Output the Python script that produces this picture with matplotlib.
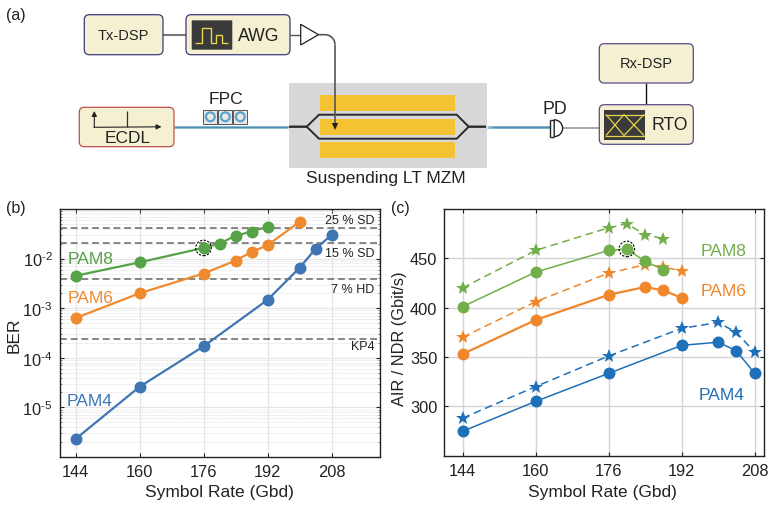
import matplotlib
matplotlib.use("Agg")
import matplotlib.pyplot as plt
from matplotlib.patches import FancyBboxPatch, Rectangle, Polygon, Circle, Wedge
from matplotlib.ticker import LogLocator, NullFormatter
import numpy as np

plt.rcParams['font.family'] = ['Liberation Sans', 'DejaVu Sans']
plt.rcParams['mathtext.fontset'] = 'custom'
plt.rcParams['mathtext.rm'] = 'Liberation Sans'
plt.rcParams['mathtext.it'] = 'Liberation Sans'
plt.rcParams['mathtext.default'] = 'regular'

# ---------- data ----------
ber_pam4_x = [144, 160, 176, 192, 200, 204, 208]
ber_pam4_y = [2.3e-6, 2.6e-5, 1.7e-4, 1.47e-3, 6.5e-3, 1.57e-2, 3.0e-2]
ber_pam6_x = [144, 160, 176, 184, 188, 192, 200]
ber_pam6_y = [6.3e-4, 2.0e-3, 5.0e-3, 9.1e-3, 1.36e-2, 1.86e-2, 5.5e-2]
ber_pam8_x = [144, 160, 176, 180, 184, 188, 192]
ber_pam8_y = [4.5e-3, 8.4e-3, 1.64e-2, 2.0e-2, 2.9e-2, 3.5e-2, 4.4e-2]
fec_limits = [4.2e-2, 2.05e-2, 3.8e-3, 2.4e-4]
fec_names = ['25 % SD', '15 % SD', '7 % HD', 'KP4']

air_pam4_x = [144, 160, 176, 192, 200, 204, 208]
air_pam4 = [274.7, 305, 333.4, 361.8, 365, 356.4, 333.4]
ndr_pam4 = [288, 320, 351, 379, 385, 375, 355]
air_pam6_x = [144, 160, 176, 184, 188, 192]
air_pam6 = [353, 387.5, 413, 421, 417.5, 410]
ndr_pam6 = [370, 406, 435, 443.5, 441, 437.5]
air_pam8_x = [144, 160, 176, 180, 184, 188]
air_pam8 = [401, 436, 458, 459.5, 447, 438.5]
ndr_pam8 = [420, 458, 481, 485, 474, 470]

rate_ticks = [144, 160, 176, 192, 208]
air_ticks = [300, 350, 400, 450]
ber_ticks = [1e-5, 1e-4, 1e-3, 1e-2]
ber_ticklabels = [r'$10^{\text{-5}}$', r'$10^{\text{-4}}$', r'$10^{\text{-3}}$', r'$10^{\text{-2}}$']

W, H = 772, 506
BLUE_B, ORANGE_B, GREEN_B = '#3F74B5', '#EF8A2E', '#55A247'
BLUE_C, ORANGE_C, GREEN_C = '#1F70B8', '#F0872B', '#72AE4A'
INK = '#222222'

fig = plt.figure(figsize=(W / 100, H / 100), dpi=100)


def axes_px(x0, y0, x1, y1):
    return fig.add_axes([x0 / W, 1 - y1 / H, (x1 - x0) / W, (y1 - y0) / H])


def style(ax):
    for s in ax.spines.values():
        s.set_linewidth(1.0)
        s.set_color(INK)
    ax.tick_params(axis='both', which='major', direction='in', top=True, right=True,
                   length=3, width=0.8, color=INK, labelcolor=INK, labelsize=11.8, pad=5)
    ax.set_axisbelow(True)


def axis_labels(ax, xtext, ytext, size_y, xpos, ypos):
    ax.set_xlabel(xtext, fontsize=12.5, color=INK, va='center')
    ax.set_ylabel(ytext, fontsize=size_y, color=INK, va='center')
    ax.xaxis.set_label_coords(*xpos)
    ax.yaxis.set_label_coords(*ypos)


# ---------- panel (b) ----------
axb = axes_px(59.5, 210, 379.5, 458)
style(axb)
axb.set_yscale('log')
axb.set_xlim(140, 220)
axb.set_ylim(1e-6, 1e-1)
axb.set_xticks(rate_ticks)
axb.set_yticks(ber_ticks)
axb.set_yticklabels(ber_ticklabels)
axb.yaxis.set_minor_locator(LogLocator(base=10, subs=np.arange(2, 10), numticks=12))
axb.yaxis.set_minor_formatter(NullFormatter())
axb.tick_params(axis='y', which='minor', direction='in', right=True, length=1.5, width=0.5, color='#555555')
axb.grid(True, which='major', color='#E6E6E6', lw=0.9)
axb.grid(True, which='minor', axis='y', color='#DDDDDD', lw=0.6, ls=(0, (1, 1)))
for v in fec_limits:
    axb.axhline(v, color='#666666', lw=1.1, ls=(0, (4.5, 2.5)), zorder=1.5)
for x, y, c in [(ber_pam4_x, ber_pam4_y, BLUE_B), (ber_pam6_x, ber_pam6_y, ORANGE_B), (ber_pam8_x, ber_pam8_y, GREEN_B)]:
    axb.plot(x, y, '-o', color=c, lw=1.6, ms=8.6, mew=0, zorder=3)
axb.scatter([ber_pam8_x[2]], [ber_pam8_y[2]], s=125, facecolors='none', edgecolors='k',
            linewidths=0.8, linestyles=(0, (2, 1.3)), zorder=4)
axis_labels(axb, 'Symbol Rate (Gbd)', 'BER', 12.5, (0.5, -0.141), (-0.142, 0.496))

# ---------- panel (c) ----------
axc = axes_px(444.3, 210, 763.7, 456.7)
style(axc)
axc.set_xlim(140, 210)
axc.set_ylim(250, 500)
axc.set_xticks(rate_ticks)
axc.set_yticks(air_ticks)
axc.grid(True, which='major', color='#D4D4D4', lw=1.0)
for x, a, n, c, lw in [(air_pam4_x, air_pam4, ndr_pam4, BLUE_C, 1.1),
                       (air_pam6_x, air_pam6, ndr_pam6, ORANGE_C, 1.6),
                       (air_pam8_x, air_pam8, ndr_pam8, GREEN_C, 1.1)]:
    axc.plot(x, n, color=c, lw=1.1, ls=(0, (5, 3)), marker='*', ms=10.5, mew=0, zorder=3)
    axc.plot(x, a, color=c, lw=lw, marker='o', ms=8.6, mew=0, zorder=4)
axc.scatter([air_pam8_x[3]], [air_pam8[3]], s=125, facecolors='none', edgecolors='k',
            linewidths=0.8, linestyles=(0, (2, 1.3)), zorder=5)
axis_labels(axc, 'Symbol Rate (Gbd)', 'AIR / NDR (Gbit/s)', 11.8, (0.495, -0.147), (-0.139, 0.477))

# ---------- overlay in pixel coordinates ----------
ov = fig.add_axes([0, 0, 1, 1], zorder=10)
ov.set_xlim(0, W)
ov.set_ylim(H, 0)
ov.axis('off')
ov.patch.set_alpha(0)


def label(x, y, s, size=11, color=INK, ha='center', va='center', **kw):
    ov.text(x, y, s, fontsize=size, color=color, ha=ha, va=va, **kw)


label(6, 15, '(a)', 11.5, ha='left')
label(6, 209, '(b)', 11.5, ha='left')
label(391, 209, '(c)', 11.5, ha='left')

for y, name in zip([220.7, 254, 289.7, 347.3], fec_names):
    label(374.5, y, name, 9, ha='right')
label(68, 259, 'PAM8', 12.5, GREEN_B, ha='left')
label(68, 298.5, 'PAM6', 12.5, ORANGE_B, ha='left')
label(66.5, 401.5, 'PAM4', 12.5, BLUE_B, ha='left')
label(701, 251.7, 'PAM8', 12.5, GREEN_C, ha='left')
label(701, 291, 'PAM6', 12.5, ORANGE_C, ha='left')
label(698.5, 395.5, 'PAM4', 12.5, BLUE_C, ha='left')

CREAM = '#F5F0D2'


def box(x0, y0, x1, y1, edge):
    ov.add_patch(FancyBboxPatch((x0 + 4, y0 + 4), x1 - x0 - 8, y1 - y0 - 8,
                                boxstyle='round,pad=4,rounding_size=5',
                                fc=CREAM, ec=edge, lw=0.9, zorder=3))


def line(xs, ys, color='#777777', lw=1.3, z=2):
    ov.plot(xs, ys, color=color, lw=lw, solid_capstyle='butt', zorder=z)


# MZM block
ov.add_patch(Rectangle((289, 84), 198, 85, fc='#D8D8D8', ec='none', zorder=1))
for y0, y1 in [(96, 111.7), (120, 136), (143.3, 159)]:
    ov.add_patch(Rectangle((320, y0), 135, y1 - y0, fc='#F5C233', ec='none', zorder=2))
wg_x = [289, 306.7, 319, 456.7, 468.7, 486]
line(wg_x, [127.7, 127.7, 115.7, 115.7, 127.7, 127.7], '#2A2A2A', 1.4, 3)
line(wg_x, [127.7, 127.7, 139.7, 139.7, 127.7, 127.7], '#2A2A2A', 1.4, 3)
label(386.3, 178, 'Suspending LT MZM', 12.5)

# Transmit boxes
box(84.3, 15.7, 163, 55.7, '#3E3A7A')
box(186, 15.7, 290, 55.7, '#3E3A7A')
line([163, 186], [35.7, 35.7], '#777777', 1.5)
label(123.5, 35.5, 'Tx-DSP', 10.5)
label(259, 36, 'AWG', 12.7)
ov.add_patch(FancyBboxPatch((192.7, 22.3), 38.6, 27.4, boxstyle='round,pad=1,rounding_size=1',
                            fc='#3A3A3A', ec='none', zorder=4))
pulse_x = np.array([585, 607, 607, 632, 632, 648, 648, 665, 665, 683]) / 3
pulse_y = np.array([133, 133, 88, 88, 133, 133, 107, 107, 133, 133]) / 3
line(pulse_x, pulse_y, '#E8D44A', 1.0, 5)
line([290, 300.7], [35.7, 35.7], '#555555', 1.0)
ov.add_patch(Polygon([(300.7, 25.3), (300.7, 46), (318.5, 35.7)], fc='white', ec='#222222', lw=0.9, zorder=3))
t = np.linspace(0, np.pi / 2, 20)
line(np.r_[318.5, 325 + 10 * np.sin(t)], np.r_[35.7, 45.7 - 10 * np.cos(t)], '#555555', 1.2, 4)
line([335, 335], [45.7, 124], '#555555', 1.2, 4)
ov.add_patch(Polygon([(331.8, 124), (338.2, 124), (335, 131)], fc='#222222', ec='none', zorder=5))

# Laser
box(79.3, 108.3, 174, 147.7, '#C0504D')
ov.annotate('', xy=(94.3, 112), xytext=(94.3, 128.5),
            arrowprops=dict(arrowstyle='-|>,head_width=0.15,head_length=0.3', color='#222222', lw=0.8, shrinkA=0, shrinkB=0), zorder=5)
ov.annotate('', xy=(161.5, 127.8), xytext=(94, 128.3),
            arrowprops=dict(arrowstyle='-|>,head_width=0.15,head_length=0.3', color='#222222', lw=0.8, shrinkA=0, shrinkB=0), zorder=5)
line([126.7, 126.7], [111.5, 128], '#2A2A6A', 0.9, 5)
label(127.5, 138, 'ECDL', 12.5)

# Fibres
line([174, 288], [127.5, 127.5], '#8FBBD3', 2.2, 2)
line([174, 288], [127.5, 127.5], '#4C8CB0', 0.8, 2)
line([487, 550], [127.8, 127.8], '#8FBBD3', 2.2, 2)
line([492, 550], [127.8, 127.8], '#4C8CB0', 1.0, 2)

# FPC
for x0 in [203.3, 218.3, 233.3]:
    ov.add_patch(Rectangle((x0, 111), 14, 13.7, fc='#E8E8E8', ec='#555555', lw=0.7, zorder=3))
    ov.add_patch(Circle((x0 + 7, 117.8), 4.4, fc='none', ec='#5BA3CC', lw=1.6, zorder=4))
label(226.5, 99.5, 'FPC', 12.6)

# PD
ov.add_patch(Wedge((554.2, 129.2), 8.4, -90, 90, fc='white', ec='#222222', lw=1.0, zorder=4))
line([549.7, 554.2], [120.8, 120.8], '#222222', 1.0, 4)
line([549.7, 554.2], [137.6, 137.6], '#222222', 1.0, 4)
line([549.7, 549.7], [120.8, 137.6], '#222222', 1.0, 4)
label(555.3, 109, 'PD', 12.8)
line([562.7, 599.3], [128.7, 128.7], '#999999', 1.2)

# Receive boxes
box(599.3, 44.7, 693.3, 84, '#5A4A86')
box(599.3, 105.7, 693.3, 145.3, '#5A4A86')
line([645.7, 645.7], [84, 105.7], '#111111', 1.0)
label(646, 64.3, 'Rx-DSP', 10.5)
label(669.3, 125, 'RTO', 12.7)
ov.add_patch(Rectangle((604.3, 111), 40.7, 29.7, fc='#3A3A3A', ec='none', zorder=4))
line([605, 645], [115.5, 115.5], '#E8D44A', 0.9, 5)
line([605, 645], [136.5, 136.5], '#E8D44A', 0.9, 5)
for a, b in [(606, 624), (624, 606), (624, 644), (644, 624)]:
    line([a, b], [115.5, 136.5], '#E8D44A', 0.9, 5)

fig.savefig('out.png', dpi=100)
